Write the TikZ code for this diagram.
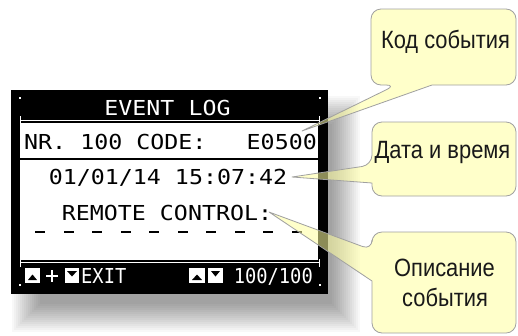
\documentclass[tikz,border=0pt]{standalone}
\usepackage{fontspec}
\setmainfont{Liberation Sans}
\newfontfamily\notefont[FakeStretch=0.875]{Liberation Sans}
\newfontfamily\lcdfont[FakeStretch=1.13]{DejaVu Sans Mono}
\newfontfamily\lcdsmallfont[FakeStretch=0.91]{DejaVu Sans Mono}
\definecolor{noteyellow}{RGB}{255,255,160}
\definecolor{noteborder}{RGB}{160,160,160}
\tikzset{
  lcdtext/.style={inner sep=0pt, font=\lcdfont\fontsize{20.6}{22}\selectfont},
  lcdwhite/.style={lcdtext, text=white},
  lcdsmall/.style={inner sep=0pt, text=white, font=\lcdsmallfont\fontsize{20.6}{22}\selectfont},
  note/.style={fill=noteyellow, fill opacity=0.55, draw=noteborder, line width=0.8pt, line join=round},
  notetext/.style={inner sep=0pt, text=black!90, font=\notefont\fontsize{25}{30}\selectfont, anchor=base},
  keybox/.style={fill=white},
  keyglyph/.style={fill=black},
}
\begin{document}
\begin{tikzpicture}[x=1pt,y=-1pt]
\useasboundingbox (0,0) rectangle (518,335);
\fill[white] (0,0) rectangle (518,335);

% soft drop shadow behind the display
\foreach \i in {0,...,14}{
  \fill[black, opacity=0.026] (12+2*\i, 96+2*\i) rectangle (360-2*\i, 332-2*\i);
}

% display frame
\fill[black] (11,90) rectangle (328,294);
\fill[white] (20,123) rectangle (318,260);
\draw[black, line width=2pt] (20,158.5) -- (318,158.5);

% thin frame rules with end ticks
\draw[white, line width=1pt] (20,120.5) -- (320,120.5);
\draw[white, line width=1pt] (20.5,116) -- (20.5,124);
\draw[white, line width=1pt] (319.5,116) -- (319.5,124);
\draw[white, line width=1pt] (20,262.5) -- (320,262.5);
\draw[white, line width=1pt] (20.5,259) -- (20.5,267);
\draw[white, line width=1pt] (319.5,259) -- (319.5,267);

% corner dots
\foreach \cx/\cy in {20/98, 320/98, 20/285, 320/285}{
  \fill[white] (\cx-0.8,\cy-0.8) rectangle (\cx+0.8,\cy+0.8);
}

% screen text
\node[lcdwhite, anchor=base] (title) at (167.5,115) {EVENT LOG};
\node[lcdtext, anchor=base west] (nr) at (24,149.5) {NR. 100 CODE:};
\node[lcdtext, anchor=base east] (code) at (317,149.5) {E0500};
\node[lcdtext, anchor=base] (stamp) at (168,184) {01/01/14 15:07:42};
\node[lcdtext, anchor=base] (descr) at (167,220) {REMOTE CONTROL:};

% dashed placeholder line
\foreach \i in {0,...,9}{
  \fill[black] (35+28.5*\i,231) rectangle (45+28.5*\i,233);
}

% key bar
\fill[keybox] (25,268) rectangle (40,283);
\fill[keyglyph] (28,280) -- (37,280) -- (32.5,274.5) -- cycle;
\draw[white, line width=1.8pt] (46,276) -- (58,276) (52,270) -- (52,282);
\fill[keybox] (65,268) rectangle (79,283);
\fill[keyglyph] (67,271) -- (77,271) -- (72,276.5) -- cycle;
\node[lcdsmall, anchor=base west] (exit) at (81,283) {EXIT};

\fill[keybox] (189,268) rectangle (205,283);
\fill[keyglyph] (192,280) -- (202,280) -- (197,274.5) -- cycle;
\fill[keybox] (208,268) rectangle (223,283);
\fill[keyglyph] (211,271) -- (220,271) -- (215.5,276.5) -- cycle;
\node[lcdsmall, anchor=base east] (page) at (313,283) {100/100};

% callouts
\coordinate (tipcode) at (302,131);
\coordinate (tipstamp) at (292,177);
\coordinate (tipdescr) at (269,212);

\draw[note] (tipcode) -- (432,85) [rounded corners=10pt] -- (516,85) -- (516,9) -- (371,9) -- (371,85) -- (396,85) [sharp corners] -- cycle;
\draw[note] (tipstamp) -- (372,183) [rounded corners=10pt] -- (372,196) -- (516,196) -- (516,122) -- (372,122) -- (372,165) [sharp corners] -- cycle;
\draw[note] (tipdescr) -- (372,281) [rounded corners=10pt] -- (372,333) -- (516,333) -- (516,232) -- (372,232) -- (372,250) [sharp corners] -- cycle;

\node[notetext] (ncode) at (445.5,48) {Код события};
\node[notetext] (nstamp) at (442.5,158) {Дата и время};
\node[notetext] (ndescr1) at (444.5,276.5) {Описание};
\node[notetext] (ndescr2) at (445,306) {события};
\end{tikzpicture}
\end{document}
